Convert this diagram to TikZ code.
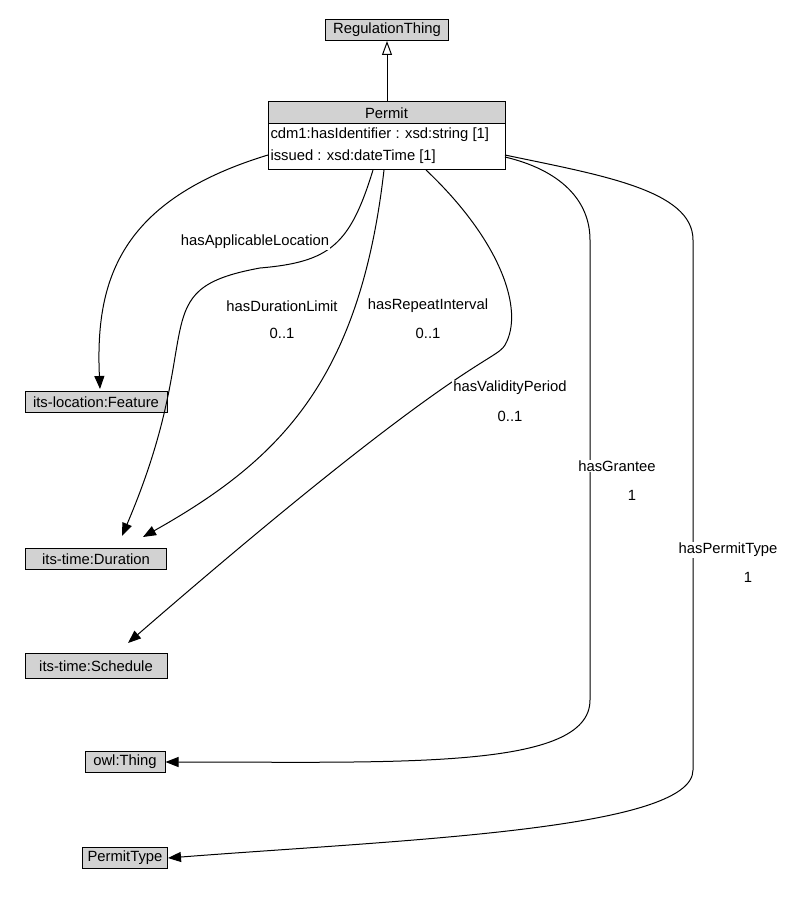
\documentclass[tikz,border=0pt]{standalone}
\usepackage{fontspec}
\setmainfont{Liberation Sans}
\usetikzlibrary{arrows.meta}
\begin{document}
\begin{tikzpicture}[x=1pt, y=-1pt, font=\fontsize{14.8}{17}\selectfont,
  cls/.style={draw, fill=gray!35, inner sep=1.5pt, minimum height=21pt},
  lbl/.style={fill=white, inner sep=1pt},
  assoc/.style={-{Triangle[length=13pt,width=10pt]}},
  every path/.style={line width=1pt}]
\useasboundingbox (0,0) rectangle (808,912);
\path (387, 30) node[cls, minimum width=123pt] (rt) {RegulationThing}
      (96, 402) node[cls, minimum width=142pt] (feat) {its-location:Feature}
      (96, 559) node[cls, minimum width=141pt] (dur) {its-time:Duration}
      (96, 666) node[cls, minimum width=142pt, minimum height=25pt] (sched) {its-time:Schedule}
      (125, 762) node[cls, minimum width=80pt] (thing) {owl:Thing}
      (125, 858) node[cls, minimum width=85pt] (ptype) {PermitType};
% Permit class box
\draw[fill=gray!35] (268,102) rectangle (505,124);
\draw (268,124) rectangle (505,170);
\node (permit) at (386.5,113) {Permit};
\node[anchor=west, inner sep=2pt] (attr1) at (268,135) {cdm1:hasIdentifier : xsd:string [1]};
\node[anchor=west, inner sep=2pt] (attr2) at (268,157) {issued : xsd:dateTime [1]};
\coordinate (ptop) at (387,102);
\draw[-{Triangle[open,length=14pt,width=10pt]}] (ptop) -- (rt);

\draw[assoc] (268,155) .. controls (120,200) and (95,280) .. (100,389);
\draw[assoc] (373,170) .. controls (350,245) and (330,262) .. (260,268)
   .. controls (140,290) and (210,330) .. (122,536);
\draw[assoc] (384,170) .. controls (360,380) and (280,460) .. (143,537);
\draw[assoc] (426,170) .. controls (500,240) and (525,310) .. (505,345)
   .. controls (495,362) and (460,355) .. (128,643);
\draw[assoc] (505,157) .. controls (560,170) and (590,200) .. (590,240)
   -- (590,700) .. controls (590,770) and (400,762) .. (thing.east);
\draw[assoc] (505,155) .. controls (600,175) and (693,190) .. (693,240)
   -- (693,770) .. controls (693,830) and (400,840) .. (ptype.east);

\node[lbl] (l1) at (255,242) {hasApplicableLocation};
\node[lbl] (l2) at (282,306) {hasDurationLimit};
\node[lbl] (m2) at (282,333) {0..1};
\node[lbl] (l3) at (428,306) {hasRepeatInterval};
\node[lbl] (m3) at (428,333) {0..1};
\node[lbl] (l4) at (510,388) {hasValidityPeriod};
\node[lbl] (m4) at (510,416) {0..1};
\node[lbl] (l5) at (617,466) {hasGrantee};
\node[lbl] (m5) at (632,495) {1};
\node[lbl] (l6) at (728,550) {hasPermitType};
\node[lbl] (m6) at (748,577) {1};
\end{tikzpicture}
\end{document}
